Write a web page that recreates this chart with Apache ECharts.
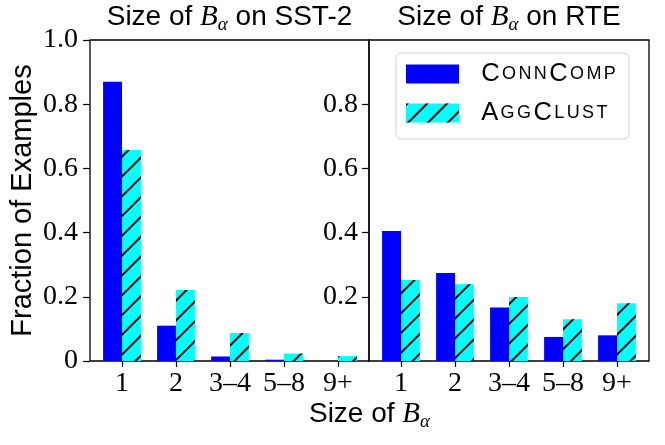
<!DOCTYPE html>
<html>
<head>
<meta charset="utf-8">
<script src="https://cdn.jsdelivr.net/npm/echarts@6.0.0/dist/echarts.min.js"></script>
<style>
  html, body { margin: 0; padding: 0; background: #fff; }
  #chart { width: 665px; height: 445px; }
</style>
</head>
<body>
<div id="chart"></div>
<script>
const categories = ['1', '2', '3–4', '5–8', '9+']
const sst2ConnComp = [0.870, 0.110, 0.014, 0.004, 0.0]
const sst2AggClust = [0.657, 0.221, 0.087, 0.023, 0.015]
const rteConnComp = [0.405, 0.274, 0.167, 0.075, 0.080]
const rteAggClust = [0.252, 0.239, 0.199, 0.130, 0.180]
const yTickLabels = ['0', '0.2', '0.4', '0.6', '0.8', '1.0']

const chart = echarts.init(document.getElementById('chart'))

const SANS = 'Liberation Sans'
const SERIF = 'Liberation Serif'
const TOP = 40
const HEIGHT = 321

// small caps for the legend names
function smallCaps(word) {
  let out = ''
  for (const ch of word) {
    out += ch === ch.toUpperCase() ? '{big|' + ch + '}' : '{sm|' + ch.toUpperCase() + '}'
  }
  return out
}

const mathRich = {
  t: { fontFamily: SANS, fontWeight: 'normal', fontSize: 28, color: '#000', lineHeight: 34, verticalAlign: 'middle' },
  b: { fontFamily: SERIF, fontWeight: 'normal', fontStyle: 'italic', fontSize: 29, color: '#000', lineHeight: 34, verticalAlign: 'middle' },
  a: { fontFamily: SERIF, fontWeight: 'normal', fontStyle: 'italic', fontSize: 19, color: '#000', lineHeight: 18, verticalAlign: 'bottom' },
}

const tickFont = { fontFamily: SERIF, fontSize: 28, color: '#000' }
const hatch = {
  symbol: 'rect',
  symbolSize: 1,
  color: '#000',
  dashArrayX: [1, 0],
  dashArrayY: [1.5, 11.5],
  rotation: -Math.PI / 4,
}

const option = {
  animation: false,
  backgroundColor: '#fff',
  title: [
    { text: '{t|Size of }{b|B}{a|α}{t| on SST-2}', left: 229.5, top: 0, textAlign: 'center', padding: 0,
      textStyle: { fontWeight: 'normal', rich: mathRich } },
    { text: '{t|Size of }{b|B}{a|α}{t| on RTE}', left: 509, top: 0, textAlign: 'center', padding: 0,
      textStyle: { fontWeight: 'normal', rich: mathRich } },
    { text: '{t|Size of }{b|B}{a|α}', left: 369.5, top: 397, textAlign: 'center', padding: 0,
      textStyle: { fontWeight: 'normal', rich: mathRich } },
  ],
  legend: {
    data: ['ConnComp', 'AggClust'],
    orient: 'vertical',
    left: 396,
    top: 53,
    itemWidth: 53,
    itemHeight: 19,
    itemGap: 13,
    padding: [8, 12, 13, 10],
    borderColor: '#d0d0d0',
    borderWidth: 1,
    borderRadius: 5,
    icon: 'rect',
    formatter: name => smallCaps(name),
    textStyle: {
      padding: [0, 0, 0, 16],
      rich: {
        big: { fontFamily: SANS, fontSize: 25.5, color: '#000', lineHeight: 19, padding: [0, 1.2, 0, 1.2] },
        sm: { fontFamily: SANS, fontSize: 18, color: '#000', lineHeight: 19, padding: [0, 1.2, 0, 1.2], verticalAlign: 'bottom' },
      },
    },
  },
  grid: [
    // frames
    { left: 90, top: TOP, width: 279, height: HEIGHT, show: true, borderColor: '#000', borderWidth: 1.3, backgroundColor: 'transparent' },
    { left: 369, top: TOP, width: 280, height: HEIGHT, show: true, borderColor: '#000', borderWidth: 1.3, backgroundColor: 'transparent' },
    // bar areas
    { left: 95, top: TOP, width: 270, height: HEIGHT },
    { left: 374, top: TOP, width: 270, height: HEIGHT },
  ],
  xAxis: [
    { gridIndex: 0, type: 'value', show: false },
    { gridIndex: 1, type: 'value', show: false },
    {
      gridIndex: 2, type: 'category', data: categories,
      axisLine: { show: false },
      axisTick: { show: true, alignWithLabel: true, length: 6, lineStyle: { color: '#000', width: 1.2 } },
      axisLabel: { ...tickFont, margin: 9, interval: 0 },
    },
    {
      gridIndex: 3, type: 'category', data: categories,
      axisLine: { show: false },
      axisTick: { show: true, alignWithLabel: true, length: 6, lineStyle: { color: '#000', width: 1.2 } },
      axisLabel: { ...tickFont, margin: 9, interval: 0 },
    },
  ],
  yAxis: [
    {
      gridIndex: 0, type: 'value', min: 0, max: 1, interval: 0.2,
      name: 'Fraction of Examples', nameLocation: 'middle', nameGap: 53,
      nameTextStyle: { fontFamily: SANS, fontSize: 29, color: '#000' },
      axisLine: { show: false },
      axisTick: { show: true, length: 7, lineStyle: { color: '#000', width: 1.2 } },
      splitLine: { show: false },
      axisLabel: { ...tickFont, margin: 12, formatter: v => yTickLabels[Math.round(v * 5)] },
    },
    {
      gridIndex: 1, type: 'value', min: 0, max: 1, interval: 0.2,
      axisLine: { show: false },
      axisTick: { show: true, length: 7, lineStyle: { color: '#000', width: 1.2 } },
      splitLine: { show: false },
      axisLabel: { ...tickFont, margin: 11, showMinLabel: false, showMaxLabel: false,
        formatter: v => yTickLabels[Math.round(v * 5)] },
    },
    { gridIndex: 2, type: 'value', min: 0, max: 1, show: false },
    { gridIndex: 3, type: 'value', min: 0, max: 1, show: false },
  ],
  series: [
    { name: 'ConnComp', type: 'bar', xAxisIndex: 2, yAxisIndex: 2, data: sst2ConnComp,
      barWidth: '35%', barGap: 0, itemStyle: { color: '#0000ff' } },
    { name: 'AggClust', type: 'bar', xAxisIndex: 2, yAxisIndex: 2, data: sst2AggClust,
      barWidth: '35%', barGap: 0, itemStyle: { color: '#00ffff', decal: hatch } },
    { name: 'ConnComp', type: 'bar', xAxisIndex: 3, yAxisIndex: 3, data: rteConnComp,
      barWidth: '35%', barGap: 0, itemStyle: { color: '#0000ff' } },
    { name: 'AggClust', type: 'bar', xAxisIndex: 3, yAxisIndex: 3, data: rteAggClust,
      barWidth: '35%', barGap: 0, itemStyle: { color: '#00ffff', decal: hatch } },
  ],
}

chart.setOption(option)
</script>
</body>
</html>
